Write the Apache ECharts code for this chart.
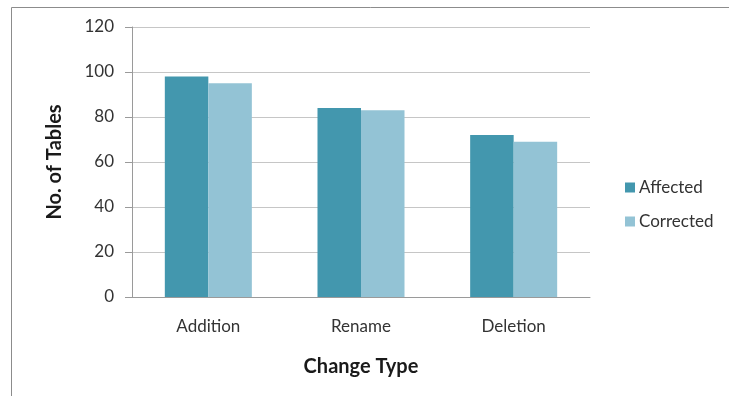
<!DOCTYPE html>
<html>
<head>
<meta charset="utf-8">
<script src="https://cdn.jsdelivr.net/npm/echarts@6/dist/echarts.min.js"></script>
<style>
  html, body { margin: 0; padding: 0; background: #fff; }
  #chart { width: 729px; height: 396px; }
</style>
</head>
<body>
<div id="chart"></div>
<script>
// Tables affected / corrected per schema change type
const categories = ['Addition', 'Rename', 'Deletion'];
const affected = [98, 84, 72];
const corrected = [95, 83, 69];
const seriesNames = ['Affected', 'Corrected'];

const FONT = 'Lato, "Open Sans", sans-serif';

const chart = echarts.init(document.getElementById('chart'), null, { renderer: 'canvas' });
chart.setOption({
  backgroundColor: '#ffffff',
  animation: false,
  textStyle: { fontFamily: FONT },
  graphic: [{
    type: 'rect',
    shape: { x: 11.5, y: 7.5, width: 900, height: 600 },
    style: { fill: 'none', stroke: '#8c8c8c', lineWidth: 1 },
    silent: true
  }],
  grid: { left: 132, right: 139, top: 27, bottom: 99 },
  legend: {
    orient: 'vertical',
    left: 620,
    top: 174,
    itemWidth: 10,
    itemHeight: 10,
    itemGap: 17,
    icon: 'rect',
    textStyle: { fontSize: 17, color: '#333', fontFamily: FONT, padding: [0, 0, 0, -1] },
    data: seriesNames
  },
  xAxis: {
    type: 'category',
    data: categories,
    name: 'Change Type',
    nameLocation: 'middle',
    nameGap: 60,
    nameTextStyle: { fontSize: 20, fontWeight: 'bold', color: '#1a1a1a', fontFamily: FONT },
    axisLine: { lineStyle: { color: '#9a9a9a' } },
    axisTick: { show: false },
    axisLabel: { fontSize: 17, color: '#333', margin: 21, fontFamily: FONT }
  },
  yAxis: {
    type: 'value',
    min: 0,
    max: 120,
    interval: 20,
    name: 'No. of Tables',
    nameLocation: 'middle',
    nameGap: 67,
    nameTextStyle: { fontSize: 20, fontWeight: 'bold', color: '#1a1a1a', fontFamily: FONT },
    axisLine: { show: true, lineStyle: { color: '#9a9a9a' } },
    axisTick: { show: true, length: 7, lineStyle: { color: '#9a9a9a' } },
    axisLabel: { fontSize: 17, color: '#333', margin: 18, fontFamily: FONT },
    splitLine: { lineStyle: { color: '#c6c6c6' } }
  },
  series: [
    {
      name: seriesNames[0],
      type: 'bar',
      data: affected,
      barGap: '0%',
      barCategoryGap: '43%',
      itemStyle: { color: '#4397ae' }
    },
    {
      name: seriesNames[1],
      type: 'bar',
      data: corrected,
      itemStyle: { color: '#93c3d5' }
    }
  ]
});
</script>
</body>
</html>
